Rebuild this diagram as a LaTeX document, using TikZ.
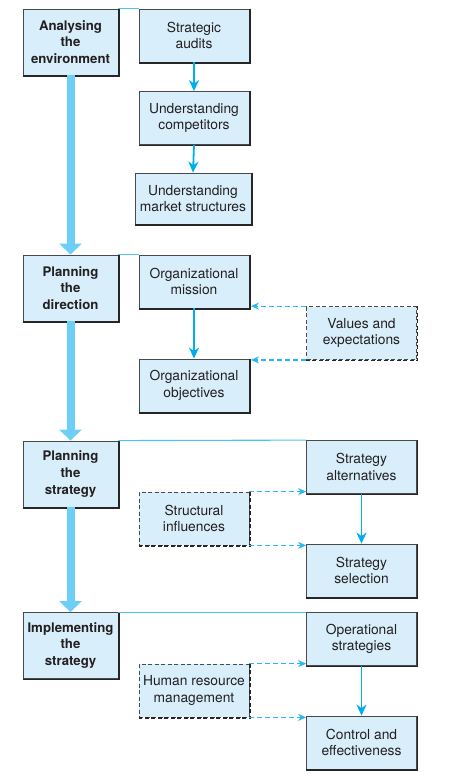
\documentclass[tikz,border=0pt]{standalone}
\usepackage{fontspec}
\setmainfont{TeX Gyre Heros}
\usetikzlibrary{arrows.meta}
\definecolor{boxfill}{HTML}{D8EEFA}
\definecolor{txt}{HTML}{231F20}
\definecolor{edgegray}{HTML}{4A4A4A}
\definecolor{shadowcol}{HTML}{262626}
\definecolor{barblue}{HTML}{6DCFF6}
\definecolor{arrowblue}{HTML}{00AEEF}
\definecolor{dashblue}{HTML}{2BB7F0}
\definecolor{linkblue}{HTML}{4CC3F1}
\tikzset{
  box/.style={draw=edgegray, line width=0.8pt, fill=boxfill, inner sep=0pt,
    align=center, text=txt, font=\fontsize{13.8}{16.6}\selectfont},
  lbox/.style={box, minimum width=95pt, minimum height=66pt,
    font=\fontsize{13.2}{16.6}\selectfont\bfseries},
  rbox/.style={box, minimum width=110pt, minimum height=53pt},
  dbox/.style={rbox, dash pattern=on 4pt off 2.5pt},
  shadowedge/.style={draw=shadowcol, line width=1.6pt},
  dshadowedge/.style={draw=shadowcol, line width=1.6pt, dash pattern=on 4pt off 2.5pt},
  bigarrow/.style={draw=barblue, line width=8pt, -{Triangle[length=11pt,width=22pt]}},
  solidarrow/.style={draw=arrowblue, line width=1.8pt, -{Stealth[length=11pt,width=10pt,inset=3.5pt]}},
  dasharrow/.style={draw=dashblue, line width=1.2pt, dash pattern=on 5pt off 3pt, -{Stealth[length=8pt,width=7pt,inset=2.5pt]}},
  toplink/.style={draw=linkblue, line width=1.1pt}
}
\begin{document}
\begin{tikzpicture}[x=1pt,y=-1pt]
\useasboundingbox (0,0) rectangle (455,775);

% left column
\node[lbox] (A)  at (70.5,42)    {Analysing\\the\\environment};
\node[lbox] (P1) at (70.5,288)   {Planning\\the\\direction};
\node[lbox] (P2) at (70.5,474)   {Planning\\the\\strategy};
\node[lbox] (P3) at (70.5,645.5) {Implementing\\the\\strategy};

% section 1
\node[rbox] (SA)  at (194,35.5)  {Strategic\\audits};
\node[rbox] (UC)  at (194,118)   {Understanding\\competitors};
\node[rbox, minimum width=116pt, minimum height=51pt] (UMS) at (193,198.5) {Understanding\\market structures};

% section 2
\node[rbox] (OM)  at (194,281.5) {Organizational\\mission};
\node[rbox] (OO)  at (194,385.5) {Organizational\\objectives};
\node[dbox] (VE)  at (361.5,333) {Values and\\expectations};

% section 3
\node[rbox] (SAL) at (361.5,467)   {Strategy\\alternatives};
\node[dbox] (SI)  at (194,518.5)   {Structural\\influences};
\node[rbox] (SS)  at (361.5,570.5) {Strategy\\selection};

% section 4
\node[rbox] (OS)  at (361.5,639)   {Operational\\strategies};
\node[dbox] (HRM) at (194,690.5)   {Human resource\\management};
\node[rbox] (CE)  at (361.5,742.5) {Control and\\effectiveness};

% shadow edges
\foreach \n in {A,P1,P2,P3,SA,UC,UMS,OM,OO,SAL,SS,OS,CE}
  \draw[shadowedge] ([xshift=0.7pt]\n.north east) -- ([xshift=0.7pt,yshift=-0.7pt]\n.south east) -- ([yshift=-0.7pt]\n.south west);
\foreach \n in {VE,SI,HRM}
  \draw[dshadowedge] ([xshift=0.7pt]\n.north east) -- ([xshift=0.7pt,yshift=-0.7pt]\n.south east) -- ([yshift=-0.7pt]\n.south west);

% top links
\draw[toplink] (A.north east) -- (SA.north west);
\draw[toplink] (P1.north east) -- (OM.north west);
\draw[toplink] (P2.north east) -- (SAL.north west);
\draw[toplink] (P3.north east) -- (OS.north west);

% big arrows
\draw[bigarrow] (A.south) -- (P1.north);
\draw[bigarrow] (P1.south) -- (P2.north);
\draw[bigarrow] (P2.south) -- (P3.north);

% solid arrows
\draw[solidarrow] (SA.south) -- (UC.north);
\draw[solidarrow] (UC.south) -- (UMS.north);
\draw[solidarrow] (OM.south) -- (OO.north);
\draw[solidarrow] (SAL.south) -- (SS.north);
\draw[solidarrow] (OS.south) -- (CE.north);

% dashed arrows
\draw[dasharrow] (VE.north west) -- ([xshift=1.5pt]VE.north west -| OM.east);
\draw[dasharrow] (VE.south west) -- ([xshift=1.5pt]VE.south west -| OO.east);
\draw[dasharrow] (SI.north east) -- (SI.north east -| SAL.west);
\draw[dasharrow] (SI.south east) -- (SI.south east -| SS.west);
\draw[dasharrow] (HRM.north east) -- (HRM.north east -| OS.west);
\draw[dasharrow] (HRM.south east) -- (HRM.south east -| CE.west);
\end{tikzpicture}
\end{document}
